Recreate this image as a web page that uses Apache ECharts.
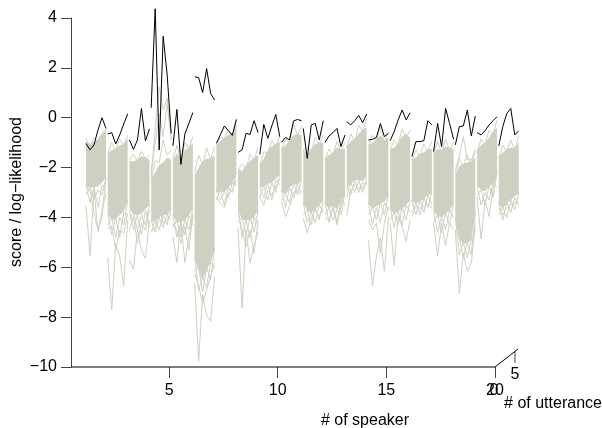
<!DOCTYPE html>
<html><head><meta charset="utf-8">
<style>html,body{margin:0;padding:0;background:#fff}#c{width:602px;height:428px}</style>
<script src="https://cdn.jsdelivr.net/npm/echarts@6/dist/echarts.min.js"></script>
</head><body><div id="c"></div>
<script>
const speakerTicks=[5,10,15,20];
const scoreTicks=[-10,-8,-6,-4,-2,0,2,4];
const utteranceOffsets=[0.175,0.359,0.543,0.727,0.911,1.095];
const trueScores=[
[-1.03,-1.29,-1.09,-0.49,0,-0.43],
[-0.65,-0.6,-1.05,-0.69,-0.25,0.16],
[-0.89,-1.27,-0.89,0.37,-0.93,-0.45],
[0.4,4.37,-1.29,3.27,1.71,-0.63],
[-1.13,0.33,-1.87,-0.65,-0.23,0.21],
[1.64,1.61,1.01,1.97,0.97,0.71],
[-1.03,-0.69,-0.33,-0.52,-0.71,-0.07],
[-1.39,-1.29,-0.63,-0.67,-0.12,-0.6],
[-1.47,-0.27,-0.83,-0.33,0.13,-0.76],
[-0.99,-0.79,-0.89,-0.13,-0.07,-0.12],
[-0.43,-1.63,-0.29,-0.23,-0.89,-0.12],
[-0.99,-0.73,-0.6,-0.43,-1.16,-0.69],
[-0.16,-0.29,-0.12,0.09,-0.2,0.15],
[-0.89,-0.87,-0.79,-0.23,-0.76,-0.63],
[-0.92,-0.56,-0.09,0.31,-0.09,0.2],
[-1.56,-0.96,-0.96,-0.92,-0.12,-0.29],
[-1.36,-0.23,-1.16,0.37,-0.23,-0.87],
[-1.09,-0.36,-0.33,0.31,-0.73,0.07],
[-0.6,-0.69,-0.52,-0.29,-0.12,0.04],
[-1.13,-0.36,0.17,0.37,-0.69,-0.52]];
const bandTop=[
[-0.95,-1.05,-0.98,-0.85,-0.65,-0.5],
[-1.45,-1.3,-1.25,-1.1,-1.05,-0.85],
[-1.75,-1.75,-1.7,-1.55,-1.6,-1.7],
[-2.45,-2.2,-1.9,-1.8,-1.6,-1.7],
[-1.7,-1.45,-1.65,-1.3,-1.2,-1.0],
[-2.3,-2.0,-1.75,-1.65,-1.65,-1.5],
[-1.1,-0.95,-0.8,-0.7,-0.6,-0.2],
[-2.05,-2.15,-1.9,-1.75,-1.6,-1.5],
[-1.9,-1.65,-1.3,-1.15,-1.05,-0.95],
[-1.25,-1.1,-0.9,-0.7,-0.65,-0.7],
[-1.25,-1.5,-1.25,-1.05,-1.0,-1.0],
[-1.65,-1.5,-1.4,-1.2,-1.25,-1.25],
[-1.15,-0.95,-0.85,-0.65,-0.45,-0.4],
[-1.1,-1.0,-0.85,-0.7,-0.9,-0.8],
[-1.25,-1.2,-1.0,-0.75,-0.65,-0.8],
[-1.65,-1.6,-1.45,-1.4,-1.25,-1.25],
[-1.45,-1.25,-1.3,-1.15,-1.2,-1.25],
[-2.3,-1.95,-1.85,-1.8,-1.75,-1.6],
[-1.3,-1.1,-1.0,-0.8,-0.55,-0.4],
[-1.55,-1.4,-1.25,-1.2,-1.2,-1.0]];
const bandBottom=[
[-2.75,-2.8,-2.8,-2.75,-2.6,-2.4],
[-3.85,-4.1,-4.05,-3.9,-3.75,-3.35],
[-3.65,-3.85,-3.9,-3.85,-3.65,-3.5],
[-4.2,-4.1,-4.0,-3.9,-3.9,-3.65],
[-3.9,-4.2,-4.2,-4.1,-3.9,-3.65],
[-5.65,-6.15,-6.5,-6.1,-5.8,-5.3],
[-3.0,-2.95,-3.0,-2.8,-2.65,-2.25],
[-3.65,-4.1,-4.1,-4.1,-4.0,-3.7],
[-2.8,-2.75,-2.65,-2.6,-2.45,-2.25],
[-2.95,-3.1,-2.8,-2.65,-2.7,-2.5],
[-3.45,-3.7,-3.85,-3.65,-3.5,-3.3],
[-3.45,-3.65,-3.5,-3.7,-3.3,-3.05],
[-2.85,-2.65,-2.5,-2.5,-2.55,-2.35],
[-3.45,-3.65,-3.55,-3.45,-3.35,-3.15],
[-3.65,-3.85,-3.75,-3.65,-3.5,-3.3],
[-3.35,-3.45,-3.35,-3.25,-3.1,-3.05],
[-3.7,-3.95,-4.0,-3.85,-3.7,-3.45],
[-4.1,-4.9,-5.05,-5.05,-4.9,-3.85],
[-2.7,-2.9,-2.95,-2.75,-2.65,-2.25],
[-3.45,-3.65,-3.45,-3.3,-3.15,-3.05]];
const upperFringe=[
[-0.85,-1.15,-0.8,-1.0,-0.6,-0.45],
[-1.45,-1.0,-1.3,-0.85,-1.1,-0.7],
[-1.7,-1.45,-1.75,-1.35,-1.65,-1.5],
[-2.5,-1.7,-1.8,-0.9,-1.5,-1.3],
[-1.7,-1.1,-1.75,-1.0,-1.25,-0.75],
[-2.2,-1.5,-1.9,-1.2,-1.7,-1.15],
[-1.15,-0.8,-0.85,-0.45,-0.7,-0.05],
[-2.1,-1.85,-2.05,-1.45,-1.7,-1.2],
[-1.95,-1.35,-1.45,-0.9,-1.15,-0.75],
[-1.3,-0.85,-1.0,-0.25,-0.7,-0.35],
[-1.3,-1.2,-1.35,-0.8,-1.1,-0.7],
[-1.7,-1.25,-1.5,-0.95,-1.35,-1.0],
[-1.2,-0.65,-0.95,-0.3,-0.55,0.0],
[-1.15,-0.7,-0.95,-0.35,-1.0,-0.55],
[-1.3,-0.9,-1.1,-0.45,-0.8,-0.5],
[-1.7,-1.3,-1.55,-1.05,-1.35,-0.95],
[-1.5,-0.95,-1.4,-0.85,-1.3,-0.95],
[-2.25,-1.65,-1.95,-1.5,-1.85,-1.3],
[-1.4,-0.85,-1.1,-0.5,-0.7,-0.1],
[-1.65,-1.1,-1.35,-0.9,-1.3,-0.7]];
const lowerFringeA=[
[-3.1,-2.8,-3.3,-2.9,-3.1,-2.4],
[-4.3,-4.0,-4.8,-4.0,-4.3,-3.3],
[-4.1,-3.8,-4.5,-3.9,-4.3,-3.5],
[-4.6,-4.1,-4.5,-3.9,-4.3,-3.6],
[-4.4,-4.1,-4.8,-4.1,-4.5,-3.6],
[-6.1,-6.0,-7.0,-6.0,-6.5,-5.2],
[-3.3,-2.9,-3.5,-2.8,-3.0,-2.2],
[-4.2,-4.0,-4.7,-4.0,-4.6,-3.7],
[-3.2,-2.7,-3.3,-2.6,-3.0,-2.2],
[-3.3,-3.1,-3.4,-2.6,-3.1,-2.5],
[-3.9,-3.7,-4.3,-3.6,-4.1,-3.3],
[-3.9,-3.6,-4.1,-3.7,-3.9,-3.0],
[-3.2,-2.6,-3.0,-2.5,-3.0,-2.4],
[-3.9,-3.6,-4.1,-3.4,-3.9,-3.1],
[-4.1,-3.8,-4.3,-3.6,-4.1,-3.3],
[-3.8,-3.4,-3.9,-3.2,-3.6,-3.0],
[-4.2,-3.9,-4.6,-3.8,-4.3,-3.4],
[-4.6,-4.8,-5.6,-5.0,-5.5,-3.8],
[-3.1,-2.9,-3.5,-2.7,-3.2,-2.2],
[-3.9,-3.6,-4.0,-3.3,-3.7,-3.0]];
const lowerFringeB=[
[-2.7,-3.4,-2.8,-3.6,-2.7,-2.8],
[-3.8,-4.7,-4.0,-4.8,-3.8,-3.9],
[-3.7,-4.5,-3.9,-4.7,-3.7,-4.4],
[-4.1,-4.6,-4.0,-4.4,-3.9,-4.1],
[-3.9,-4.8,-4.2,-4.7,-3.9,-4.3],
[-5.6,-6.9,-6.4,-6.8,-5.8,-6.0],
[-2.9,-3.3,-3.0,-3.2,-2.6,-2.7],
[-3.6,-4.8,-4.1,-4.8,-4.0,-4.3],
[-2.8,-3.2,-2.6,-3.3,-2.5,-2.7],
[-2.9,-3.6,-2.8,-3.2,-2.7,-3.0],
[-3.4,-4.2,-3.8,-4.2,-3.5,-3.8],
[-3.4,-4.2,-3.5,-4.2,-3.3,-3.5],
[-2.8,-3.1,-2.5,-3.0,-2.6,-2.7],
[-3.4,-4.3,-3.6,-4.2,-3.4,-3.7],
[-3.6,-4.4,-3.7,-4.3,-3.5,-3.8],
[-3.3,-3.9,-3.3,-3.8,-3.1,-3.5],
[-3.7,-4.6,-4.0,-4.5,-3.7,-4.0],
[-4.0,-5.5,-5.0,-5.6,-4.9,-4.5],
[-2.7,-3.5,-3.0,-3.3,-2.6,-2.8],
[-3.4,-4.1,-3.4,-3.8,-3.2,-3.5]];
// speaker number (1-based) followed by six read values
const impostorStrays=[
[1,-3.55,-5.53,-2.9,-4.57,-3.71,-3.04],
[1,-2.77,-2.91,-3.84,-4.51,-3.97,-2.37],
[2,-5.6,-7.71,-5.04,-5.57,-6.75,-4.11],
[2,-4.44,-4.37,-5.31,-4.51,-4.64,-3.84],
[3,-5.71,-6.08,-4.51,-5.31,-5.64,-4.11],
[3,-4.51,-3.97,-5.04,-4.24,-4.51,-3.71],
[4,-4.57,-4.44,-3.57,-4.24,-4.11,-3.84],
[4,-2.36,-0.49,1.24,0.31,0.77,-0.63],
[4,-2.09,-1.03,0.17,-0.76,0.57,-0.89],
[5,-4.77,-5.81,-4.24,-5.81,-4.77,-3.97],
[5,-4.24,-4.51,-5.04,-4.37,-5.31,-3.84],
[6,-6.64,-9.77,-7.11,-7.91,-8.17,-6.37],
[6,-6.24,-6.77,-7.44,-6.91,-6.37,-5.84],
[7,-3.17,-3.44,-3.6,-3.04,-2.91,-2.51],
[8,-4.44,-7.64,-4.51,-5.84,-5.11,-4.57],
[8,-3.84,-4.51,-5.17,-4.51,-5.44,-4.11],
[9,-3.17,-3.51,-2.91,-3.11,-2.77,-2.44],
[10,-3.37,-3.97,-3.56,-3.0,-2.9,-3.1],
[11,-4.03,-4.63,-4.03,-3.69,-3.96,-3.63],
[12,-4.03,-4.09,-3.63,-4.29,-3.56,-2.89],
[13,-3.96,-2.89,-2.69,-2.83,-2.83,-2.56],
[14,-4.92,-6.76,-5.57,-4.83,-6.16,-3.96],
[14,-4.09,-4.49,-4.23,-5.43,-4.23,-3.56],
[15,-4.23,-5.92,-3.96,-4.36,-4.96,-4.09],
[16,-3.96,-3.56,-3.63,-3.56,-3.43,-3.63],
[17,-4.23,-5.56,-4.23,-5.13,-4.23,-4.49],
[18,-2.09,-1.56,-0.76,-1.69,-1.69,-1.29],
[18,-4.49,-7.05,-5.43,-6.16,-5.83,-4.23],
[19,-3.16,-4.87,-3.29,-3.96,-2.83,-2.16],
[20,-3.63,-3.89,-3.63,-3.49,-3.43,-3.23]];
const axisFrame=[[0.484,-10],[20,-10],[21.06,-9.28]];
const utteranceTick=[[20.92,-9.36],[20.92,-9.84]];
const speakerTitle='# of speaker', utteranceTitle='# of utterance', scoreTitle='score / log\u2212likelihood';
const utteranceLabels=['0','5'];

const GREY='#cdd1c1';
const FONT='"Liberation Sans",Arial,sans-serif';
const FS=16;
const groupX=s=>utteranceOffsets.map(o=>s+o);
function joined(rows,getS){
  const out=[];
  rows.forEach((r,i)=>{const [s,vals]=getS(r,i);groupX(s).forEach((x,j)=>out.push([x,vals[j]]));out.push([null,null]);});
  return out;
}
const byIndex=(r,i)=>[i+1,r];
const bandData=bandTop.map((t,i)=>[].concat(groupX(i+1),t,bandBottom[i]));
const text=(t,x,y,rotation)=>({type:'text',x,y,rotation:rotation||0,style:{text:t,fill:'#000',font:FS+'px '+FONT,align:'center',verticalAlign:'middle'}});
const chart=echarts.init(document.getElementById('c'),null,{renderer:'canvas'});
chart.setOption({
  animation:false,
  backgroundColor:'#fff',
  grid:{left:71,top:18,width:447,height:349,containLabel:false,outerBoundsMode:'none'},
  xAxis:{type:'value',min:0.484,max:21.06,splitLine:{show:false},
    axisLine:{show:false,onZero:false},
    axisTick:{show:true,length:11,customValues:speakerTicks,lineStyle:{color:'#444',width:1}},
    axisLabel:{show:true,customValues:speakerTicks,color:'#000',fontFamily:FONT,fontSize:FS,margin:16,hideOverlap:false,showMinLabel:true,showMaxLabel:true}},
  yAxis:{type:'value',min:-10,max:4,interval:2,splitLine:{show:false},
    axisLine:{show:true,onZero:false,lineStyle:{color:'#444',width:1}},
    axisTick:{show:true,length:10,customValues:scoreTicks,lineStyle:{color:'#444',width:1}},
    axisLabel:{show:true,customValues:scoreTicks,color:'#000',fontFamily:FONT,fontSize:FS,margin:14,
      formatter:v=>String(v).replace('-','\u2212')}},
  graphic:[
    text(scoreTitle,17,192,Math.PI/2),
    text(speakerTitle,365,421),
    text(utteranceTitle,553,404),
    text(utteranceLabels[1],515,375),
    text(utteranceLabels[0],494,391)
  ],
  series:[
    {type:'custom',name:'band',clip:false,silent:true,data:bandData,
      encode:{x:[0,1,2,3,4,5],y:[6,7,8,9,10,11]},
      renderItem(params,api){
        const pts=[];
        for(let j=0;j<6;j++)pts.push(api.coord([api.value(j),api.value(6+j)]));
        for(let j=5;j>=0;j--)pts.push(api.coord([api.value(j),api.value(12+j)]));
        return {type:'polygon',shape:{points:pts},style:{fill:GREY}};
      }},
    {type:'line',name:'impostors',clip:false,silent:true,symbol:'none',connectNulls:false,
      lineStyle:{color:GREY,width:1},
      data:joined(impostorStrays,r=>[r[0],r.slice(1)])},
    {type:'line',name:'fringe top',clip:false,silent:true,symbol:'none',connectNulls:false,
      lineStyle:{color:GREY,width:1},data:joined(upperFringe,byIndex)},
    {type:'line',name:'fringe low a',clip:false,silent:true,symbol:'none',connectNulls:false,
      lineStyle:{color:GREY,width:1},data:joined(lowerFringeA,byIndex)},
    {type:'line',name:'fringe low b',clip:false,silent:true,symbol:'none',connectNulls:false,
      lineStyle:{color:GREY,width:1},data:joined(lowerFringeB,byIndex)},
    {type:'line',name:'true speaker',clip:false,silent:true,symbol:'none',connectNulls:false,z:5,
      lineStyle:{color:'#000',width:1},
      data:joined(trueScores,byIndex)},
    {type:'line',name:'axis frame',clip:false,silent:true,symbol:'none',
      lineStyle:{color:'#000',width:1},data:axisFrame},
    {type:'line',name:'utterance tick',clip:false,silent:true,symbol:'none',
      lineStyle:{color:'#444',width:1},data:utteranceTick}
  ]
});
</script></body></html>
